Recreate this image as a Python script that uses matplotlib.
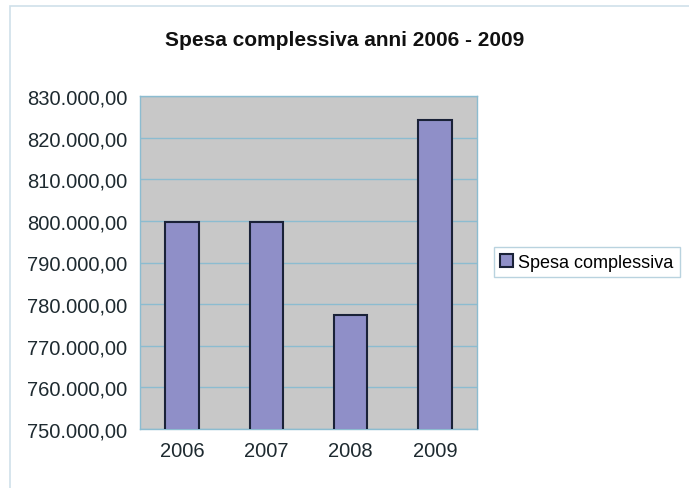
import matplotlib.pyplot as plt
from matplotlib.ticker import FuncFormatter, MultipleLocator
from matplotlib.patches import Rectangle

plt.rcParams['font.family'] = ['Liberation Sans', 'DejaVu Sans']

# dati
anni = ["2006", "2007", "2008", "2009"]
spesa = [799800, 799700, 777400, 824200]
serie = "Spesa complessiva"


def formato_it(v, pos):
    s = "{:,.2f}".format(v)
    return s.replace(",", "X").replace(".", ",").replace("X", ".")


fig = plt.figure(figsize=(6.89, 4.89), dpi=100)
fig.patch.set_facecolor("white")

# bordo esterno del grafico
fig.patches.append(Rectangle((10 / 689, -0.05), 1.2, 1 - 7 / 489 + 0.05,
                             transform=fig.transFigure, fill=False,
                             edgecolor="#cfe0ea", linewidth=1.2))

ax = fig.add_axes([140 / 689, 1 - 430 / 489, 337 / 689, 333 / 489])
ax.set_facecolor("#c8c8c8")

x = range(len(anni))
ax.bar(x, spesa, width=0.40, color="#8f8fc8", edgecolor="#1a2238",
       linewidth=1.5, label=serie, zorder=3)

ax.set_xlim(-0.5, 3.5)
ax.set_ylim(750000, 830000)
ax.yaxis.set_major_locator(MultipleLocator(10000))
ax.yaxis.set_major_formatter(FuncFormatter(formato_it))
ax.set_xticks(list(x))
ax.set_xticklabels(anni)
ax.grid(axis="y", color="#8cbcd0", linewidth=1.0, zorder=0)

for s in ax.spines.values():
    s.set_color("#8cbcd0")
    s.set_linewidth(1.0)

ax.tick_params(axis="both", labelsize=14.5, colors="#1e2a30", length=0)
ax.tick_params(axis="x", pad=9)
ax.tick_params(axis="y", pad=9)

fig.text(0.5, 1 - 40 / 489, "Spesa complessiva anni 2006 - 2009",
         ha="center", va="center", fontsize=15, fontweight="bold",
         color="#111111")

leg = fig.legend(loc="center left", bbox_to_anchor=(494 / 689, 1 - 263 / 489),
                 fontsize=13, frameon=True, fancybox=False, handlelength=0.7,
                 handleheight=0.7, handletextpad=0.3, borderpad=0.35,
                 borderaxespad=0)
leg.get_frame().set_edgecolor("#a8c8d8")
leg.get_frame().set_linewidth(1.0)

fig.savefig("out.png", dpi=100)
